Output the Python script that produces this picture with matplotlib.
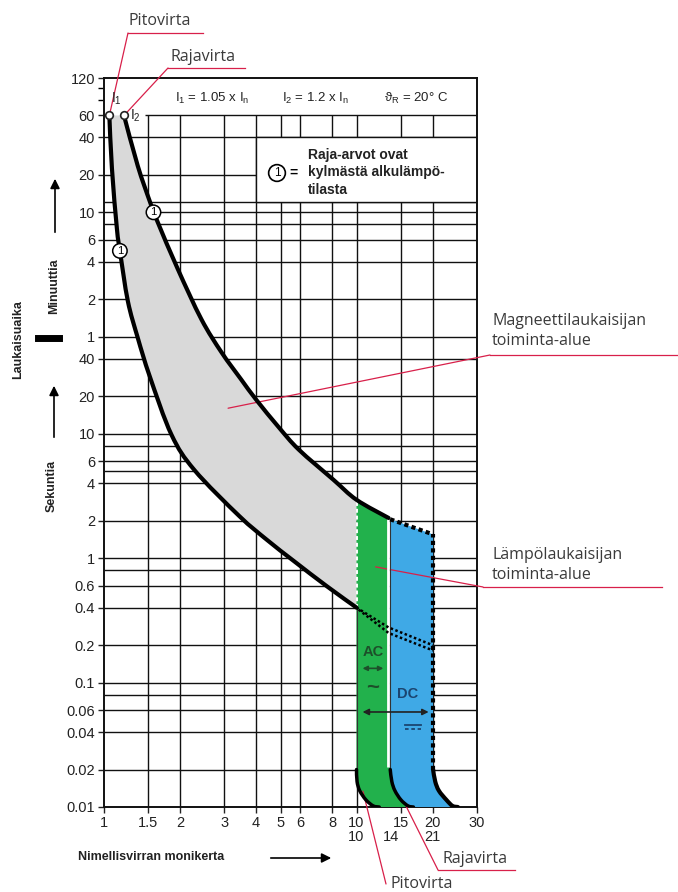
import matplotlib
matplotlib.use("Agg")
import matplotlib.pyplot as plt
import numpy as np
from matplotlib.lines import Line2D
from matplotlib.path import Path
from matplotlib.patches import PathPatch, FancyArrowPatch
from matplotlib.ticker import NullLocator

plt.rcParams['font.family'] = ['Liberation Sans', 'DejaVu Sans']
plt.rcParams['mathtext.fontset'] = 'custom'
plt.rcParams['mathtext.rm'] = 'Liberation Sans'
plt.rcParams['mathtext.it'] = 'Liberation Sans'
plt.rcParams['mathtext.default'] = 'rm'

# ylaraja = rajavirta I2, x = nimellisvirran monikerta, t = laukaisuaika sekunteina
ylaraja_x = [1.2, 1.36, 1.52, 1.63, 1.96, 2.43, 2.92, 3.49, 4.0, 4.93, 5.91, 8.1, 10.0, 13.4]
ylaraja_t = [3600, 1420, 730, 503, 210, 83, 45, 27.3, 18.8, 11.2, 7.43, 4.26, 2.94, 2.1]
# alaraja = pitovirta I1
alaraja_x = [1.05, 1.075, 1.125, 1.156, 1.243, 1.36, 1.518, 1.85, 2.28, 3.43, 4.42, 5.65, 7.62, 10.0]
alaraja_t = [3600, 1350, 442, 294, 116, 59, 28.8, 9.8, 5.1, 2.18, 1.4, 0.946, 0.595, 0.4]

# magneettilaukaisun alapaan kaaret
kaari_t = [0.02, 0.016, 0.0135, 0.0114, 0.0102, 0.01]
ac_vasen_x = [10.0, 10.05, 10.3, 10.9, 11.65, 12.3]
ac_oikea_x = [13.6, 13.8, 14.2, 15.0, 16.0, 16.8]
dc_oikea_x = [20.1, 20.5, 21.2, 22.7, 24.0, 25.2]

dc_yla_x = [13.6, 20.1]
dc_yla_t = [2.05, 1.55]

piste1_x = [10.0, 13.4, 20.1]
piste1_t = [0.4, 0.277, 0.199]
piste2_x = [10.2, 13.4, 20.1]
piste2_t = [0.385, 0.25, 0.181]

merkki_x = [1.156, 1.57]
merkki_t = [294, 600]

x_tikit = [1, 1.5, 2, 3, 4, 5, 6, 8, 10, 15, 20, 30]
x_tikit2 = [10, 13.7, 20]
x_tekstit2 = ['10', '14', '21']
s_tikit = [0.01, 0.02, 0.04, 0.06, 0.1, 0.2, 0.4, 0.6, 1, 2, 4, 6, 10, 20, 40]
min_tikit = [1, 2, 4, 6, 10, 20, 40, 60, 120]
min_pikku = [80, 100]

vaaka_s = [0.02, 0.04, 0.06, 0.08, 0.1, 0.2, 0.4, 0.6, 0.8, 1, 2, 4, 5, 6, 8, 10, 20, 40]
vaaka_min = [1, 2, 4, 6, 8, 10, 12, 20, 40]
pysty = [1.5, 2, 3, 4, 5, 6, 8, 10, 15, 20]

harmaa = '#d9d9d9'
vihrea = '#22b14c'
sininen = '#3fa9e6'
punainen = '#d8204a'
teksti = '#3a3a3a'


def kaari(xs, ts):
    # pehmea kayra pisteiden kautta (Catmull-Rom log-asteikolla)
    p = np.log10(np.column_stack([xs, ts]))
    q = np.vstack([p[0], p, p[-1]])
    v = [p[0]]
    for i in range(len(p) - 1):
        a, b, c, d = q[i], q[i + 1], q[i + 2], q[i + 3]
        v += [b + (c - a) / 6, c - (d - b) / 6, c]
    codes = [Path.MOVETO] + [Path.CURVE4] * (3 * (len(p) - 1))
    return list(10 ** np.array(v)), codes


def alue(osat):
    # osat: lista (x, t, pehmea) -> suljettu polku
    verts, codes = [], []
    for xs, ts, peh in osat:
        if peh:
            v, c = kaari(xs, ts)
        else:
            v = list(zip(xs, ts))
            c = [Path.MOVETO] + [Path.LINETO] * (len(xs) - 1)
        if verts:
            c = [Path.LINETO] + c[1:]
        verts += list(v)
        codes += c
    verts.append(verts[0])
    codes.append(Path.CLOSEPOLY)
    return Path(verts, codes)


def viiva(xs, ts, **kw):
    v, c = kaari(xs, ts)
    ax.add_patch(PathPatch(Path(v, c), fc='none', capstyle='round', joinstyle='round', **kw))


fig = plt.figure(figsize=(6.78, 8.92), dpi=100)
ax = fig.add_axes([104/678, 1-807/892, 373/678, 729/892])
ax.set_xscale('log')
ax.set_yscale('log')
ax.set_xlim(1, 30)
ax.set_ylim(0.01, 7200)

# ruudukko
ax.hlines(vaaka_s + [m*60 for m in vaaka_min], 1, 30, color='#111', lw=1.0, zorder=1)
ax.hlines(3600, 1.45, 30, color='#111', lw=1.0, zorder=1)
ax.vlines(pysty, 0.01, 3600, color='#111', lw=1.0, zorder=1)

# selitelaatikko
ax.fill([4, 30, 30, 4], [720, 720, 2400, 2400], fc='white', ec='#111', lw=1.0, zorder=2)

# alueet
ax.add_patch(PathPatch(alue([(ylaraja_x[:-1], ylaraja_t[:-1], True),
                             (alaraja_x[::-1], alaraja_t[::-1], True)]),
                       fc=harmaa, ec='none', zorder=3))
ax.add_patch(PathPatch(alue([(ylaraja_x[-2:], ylaraja_t[-2:], False),
                             (ac_oikea_x, kaari_t, True),
                             (ac_vasen_x[::-1], kaari_t[::-1], True)]),
                       fc=vihrea, ec='none', zorder=3))
ax.add_patch(PathPatch(alue([(dc_yla_x, dc_yla_t, False),
                             (dc_oikea_x, kaari_t, True),
                             (ac_oikea_x[::-1], kaari_t[::-1], True)]),
                       fc=sininen, ec='none', zorder=3))

# rajat
ax.vlines(13.3, 0.021, 2.12, color='white', lw=2.0, zorder=4)
ax.vlines(ac_oikea_x[0], kaari_t[0], dc_yla_t[0], color='#333', lw=0.8, zorder=4)
ax.vlines(ac_vasen_x[0], kaari_t[0], alaraja_t[-1], color='#333', lw=0.8, zorder=4)
ax.vlines(ac_vasen_x[0], alaraja_t[-1], ylaraja_t[-2], color='white', lw=1.4,
          linestyles=(0, (2, 1.5)), zorder=5)

viiva(ylaraja_x, ylaraja_t, ec='black', lw=3, zorder=6)
viiva(alaraja_x, alaraja_t, ec='black', lw=3, zorder=6)
viiva(ac_vasen_x, kaari_t, ec='black', lw=2.5, zorder=6)
viiva(ac_oikea_x, kaari_t, ec='black', lw=2.5, zorder=6)
viiva(dc_oikea_x, kaari_t, ec='black', lw=3, zorder=6)

ax.plot(dc_yla_x, dc_yla_t, color='black', lw=3, linestyle=(0, (1, 0.8)), zorder=6)
ax.vlines(dc_oikea_x[0], kaari_t[0], dc_yla_t[-1], color='black', lw=3,
          linestyles=(0, (1, 0.8)), zorder=6)
ax.plot(piste1_x, piste1_t, color='black', lw=1.8, linestyle=(0, (1, 1)), zorder=6)
ax.plot(piste2_x, piste2_t, color='black', lw=1.8, linestyle=(0, (1, 1)), zorder=6)

# alkupisteet ja merkit
ax.plot([alaraja_x[0], ylaraja_x[0]], [alaraja_t[0], ylaraja_t[0]], 'o', ms=5.5,
        mfc='white', mec='#222', mew=1.2, zorder=7)
for mx, mt in zip(merkki_x, merkki_t):
    ax.text(mx, mt, '1', fontsize=8, ha='center', va='center', zorder=8,
            bbox=dict(boxstyle='circle,pad=0.2', fc='white', ec='black', lw=1.1))

ax.annotate(r'I$_1$', (alaraja_x[0], alaraja_t[0]), xytext=(1, 6), textcoords='offset points',
            fontsize=10, color='#222', ha='left', va='bottom', zorder=8)
ax.annotate(r'I$_2$', (ylaraja_x[0], ylaraja_t[0]), xytext=(4, 0), textcoords='offset points',
            fontsize=10, color='#222', ha='left', va='center', zorder=8)

# AC / DC
ax.text(11.6, 0.175, 'AC', fontsize=10.5, fontweight='bold', color='#1d4f2a', ha='center', va='center', zorder=8)
ax.annotate('', xy=(10.3, 0.13), xytext=(13.1, 0.13),
            arrowprops=dict(arrowstyle='<|-|>', color='#1d4f2a', lw=1.2, mutation_scale=7), zorder=8)
ax.text(11.6, 0.089, '~', fontsize=16, fontweight='bold', color='#1d4f2a', ha='center', va='center', zorder=8)
ax.text(16.0, 0.0815, 'DC', fontsize=10.5, fontweight='bold', color='#1b4570', ha='center', va='center', zorder=8)
ax.annotate('', xy=(10.3, 0.058), xytext=(19.8, 0.058),
            arrowprops=dict(arrowstyle='<|-|>', color='#222', lw=1.2, mutation_scale=9), zorder=8)
# tasavirran merkki viivoina
fig.add_artist(Line2D([405/678, 421/678], [1-725/892, 1-725/892], color='#1b4570', lw=1.3))
fig.add_artist(Line2D([405/678, 421/678], [1-729/892, 1-729/892], color='#1b4570', lw=1.3,
                      linestyle=(0, (2, 1.5))))

# akselit
ax.set_xticks(x_tikit)
ax.set_xticklabels([format(v, 'g') for v in x_tikit])
ax.xaxis.set_minor_locator(NullLocator())
ax.set_yticks(s_tikit + [m*60 for m in min_tikit])
ax.set_yticklabels([format(v, 'g') for v in s_tikit] + [str(m) for m in min_tikit])
ax.set_yticks([m*60 for m in min_pikku], minor=True)
ax.set_yticklabels(['', ''], minor=True)
ax.tick_params(axis='both', which='major', labelsize=10.5, length=4, width=1.0,
               pad=2.5, colors='#222')
ax.tick_params(axis='y', which='minor', length=4, width=1.0)
for s in ax.spines.values():
    s.set_linewidth(1.4)
    s.set_color('#111')
for xv, lab in zip(x_tikit2, x_tekstit2):
    ax.text(xv, -0.041, lab, transform=ax.get_xaxis_transform(), fontsize=10.5,
            color='#222', ha='center', va='center')

# otsikkorivi
fig.text(175/678, 1-98/892, r'I$_1$ = 1.05 x I$_n$', fontsize=9.5, color='#222', va='center')
fig.text(282/678, 1-98/892, r'I$_2$ = 1.2 x I$_n$', fontsize=9.5, color='#222', va='center')
fig.text(384/678, 1-98/892, r'$\vartheta_R$ = 20° C', fontsize=9.5, color='#222', va='center')

# selite
fig.text(277/678, 1-173/892, '1', fontsize=8.5, ha='center', va='center',
         bbox=dict(boxstyle='circle,pad=0.2', fc='white', ec='black', lw=1.2))
fig.text(294/678, 1-173/892, '=', fontsize=10, fontweight='bold', ha='center', va='center')
fig.text(308/678, 1-148/892, 'Raja-arvot ovat\nkylmästä alkulämpö-\ntilasta', fontsize=10,
         fontweight='bold', color='#222', va='top', ha='left', linespacing=1.3)

# akselien nimet
fig.text(18/678, 1-340/892, 'Laukaisuaika', rotation=90, fontsize=9, fontweight='bold',
         ha='center', va='center', color='#222')
fig.text(54/678, 1-286/892, 'Minuuttia', rotation=90, fontsize=9, fontweight='bold',
         ha='center', va='center', color='#222')
fig.text(52/678, 1-486/892, 'Sekuntia', rotation=90, fontsize=9, fontweight='bold',
         ha='center', va='center', color='#222')
fig.add_artist(Line2D([38/678, 59/678], [1-338/892, 1-338/892], color='black', lw=5))
fig.text(78/678, 1-857/892, 'Nimellisvirran monikerta', fontsize=9, fontweight='bold',
         ha='left', va='center', color='#222')


def nuoli(x1, y1, x2, y2):
    fig.add_artist(FancyArrowPatch(
        (x1/678, 1-y1/892), (x2/678, 1-y2/892), transform=fig.transFigure,
        arrowstyle='-|>', mutation_scale=14, color='black', lw=1.2))


nuoli(55, 235, 55, 176)
nuoli(54, 440, 54, 383)
nuoli(268, 858, 334, 858)


# selitetekstit punaisin viivoin
def selite(teksti_, tx, ty, ax_, ay, x2, xy):
    fig.text(tx/678, 1-ty/892, teksti_, fontsize=11.5, color=teksti, family=['Open Sans', 'DejaVu Sans'],
             ha='left', va='center', linespacing=1.35)
    ax.annotate('', xy=xy, xycoords='data', xytext=(ax_, 892-ay), textcoords='figure pixels',
                arrowprops=dict(arrowstyle='-', color=punainen, lw=0.9, shrinkA=0, shrinkB=0),
                annotation_clip=False)
    if x2 is not None:
        fig.add_artist(Line2D([ax_/678, x2/678], [1-ay/892, 1-ay/892], color=punainen, lw=0.9))


selite('Pitovirta', 128, 21, 128, 33, 203, (alaraja_x[0], alaraja_t[0]))
selite('Rajavirta', 170, 57, 168, 68, 245, (ylaraja_x[0], ylaraja_t[0]))
selite('Magneettilaukaisijan\ntoiminta-alue', 492, 331, 490, 355, 678, (3.1, 16))
selite('Lämpölaukaisijan\ntoiminta-alue', 492, 565, 483, 587, 662, (11.9, 0.85))
selite('Rajavirta', 442, 859, 438, 870, 515, (15.7, 0.0102))
selite('Pitovirta', 390, 884, 386, 884, None, (10.6, 0.0134))

fig.savefig('out.png', dpi=100)
